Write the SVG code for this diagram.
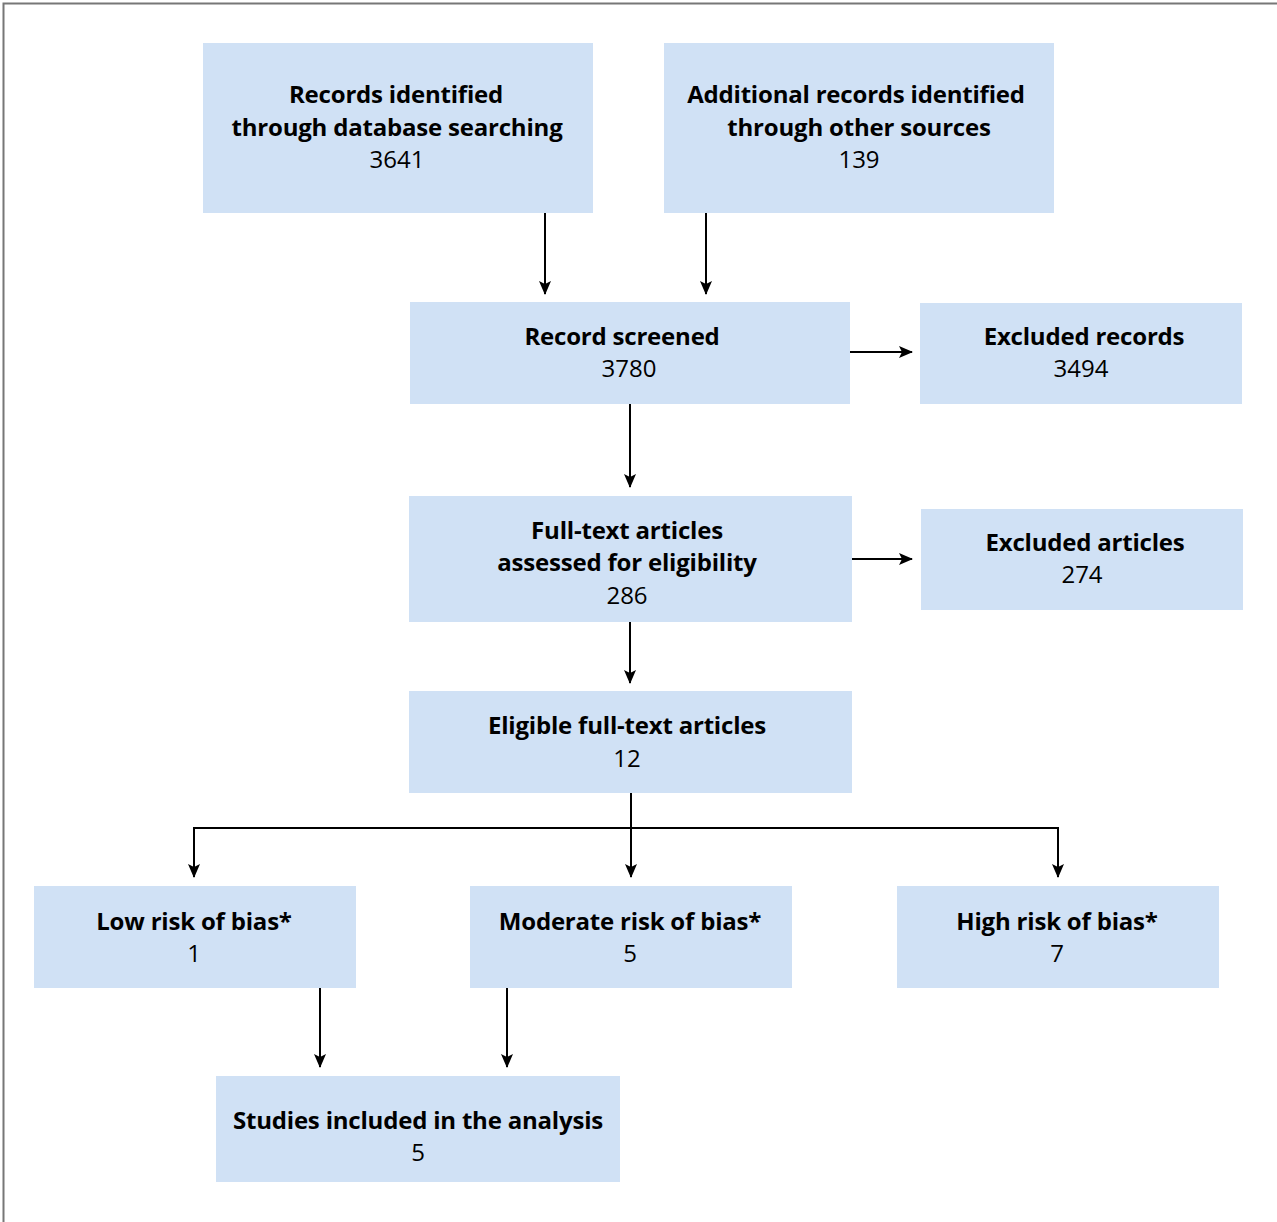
<svg xmlns="http://www.w3.org/2000/svg" width="1277" height="1222" viewBox="0 0 1277 1222">
<style>
.box{fill:#d0e1f5}
.t{font-family:"Open Sans","Noto Sans","Liberation Sans",sans-serif;font-size:24px;fill:#000;text-anchor:middle}
.b{font-weight:700;letter-spacing:-0.2px}
.c{fill:none;stroke:#000;stroke-width:2}
</style>
<defs>
<marker id="ah" viewBox="0 0 14 12" refX="13" refY="6" markerWidth="14" markerHeight="12" markerUnits="userSpaceOnUse" orient="auto">
<path d="M0,0 L14,6 L0,12 L3,6 z" fill="#000"/>
</marker>
</defs>
<rect x="0" y="0" width="1277" height="1222" fill="#fff"/>
<path d="M3.5,1222 V3.5 H1277" fill="none" stroke="#777" stroke-width="2"/>
<g id="n1"><rect class="box" x="203" y="43" width="390" height="170"/>
<text class="t b" x="396" y="103">Records identified</text>
<text class="t b" x="397" y="136">through database searching</text>
<text class="t" x="397" y="168">3641</text></g>
<g id="n2"><rect class="box" x="664" y="43" width="390" height="170"/>
<text class="t b" x="856" y="103">Additional records identified</text>
<text class="t b" x="859" y="136">through other sources</text>
<text class="t" x="859" y="168">139</text></g>
<g id="n3"><rect class="box" x="410" y="302" width="440" height="102"/>
<text class="t b" x="622" y="345">Record screened</text>
<text class="t" x="629" y="377">3780</text></g>
<g id="n4"><rect class="box" x="920" y="303" width="322" height="101"/>
<text class="t b" x="1084" y="345">Excluded records</text>
<text class="t" x="1081" y="377">3494</text></g>
<g id="n5"><rect class="box" x="409" y="496" width="443" height="126"/>
<text class="t b" x="627" y="539">Full-text articles</text>
<text class="t b" x="627" y="571">assessed for eligibility</text>
<text class="t" x="627" y="604">286</text></g>
<g id="n6"><rect class="box" x="921" y="509" width="322" height="101"/>
<text class="t b" x="1085" y="551">Excluded articles</text>
<text class="t" x="1082" y="583">274</text></g>
<g id="n7"><rect class="box" x="409" y="691" width="443" height="102"/>
<text class="t b" x="627" y="734">Eligible full-text articles</text>
<text class="t" x="627" y="767">12</text></g>
<g id="n8"><rect class="box" x="34" y="886" width="322" height="102"/>
<text class="t b" x="194" y="930">Low risk of bias*</text>
<text class="t" x="194" y="962">1</text></g>
<g id="n9"><rect class="box" x="470" y="886" width="322" height="102"/>
<text class="t b" x="630" y="930">Moderate risk of bias*</text>
<text class="t" x="630" y="962">5</text></g>
<g id="n10"><rect class="box" x="897" y="886" width="322" height="102"/>
<text class="t b" x="1057" y="930">High risk of bias*</text>
<text class="t" x="1057" y="962">7</text></g>
<g id="n11"><rect class="box" x="216" y="1076" width="404" height="106"/>
<text class="t b" x="418" y="1129">Studies included in the analysis</text>
<text class="t" x="418" y="1161">5</text></g>
<g id="connectors">
<path class="c" d="M545,213 V294" marker-end="url(#ah)"/>
<path class="c" d="M706,213 V294" marker-end="url(#ah)"/>
<path class="c" d="M850,352 H912" marker-end="url(#ah)"/>
<path class="c" d="M630,404 V487" marker-end="url(#ah)"/>
<path class="c" d="M852,559 H912" marker-end="url(#ah)"/>
<path class="c" d="M630,622 V683" marker-end="url(#ah)"/>
<path class="c" d="M631,793 V877" marker-end="url(#ah)"/>
<path class="c" d="M631,828 H194 V877" marker-end="url(#ah)"/>
<path class="c" d="M631,828 H1058 V877" marker-end="url(#ah)"/>
<path class="c" d="M320,988 V1067" marker-end="url(#ah)"/>
<path class="c" d="M507,988 V1067" marker-end="url(#ah)"/>
</g>
</svg>
